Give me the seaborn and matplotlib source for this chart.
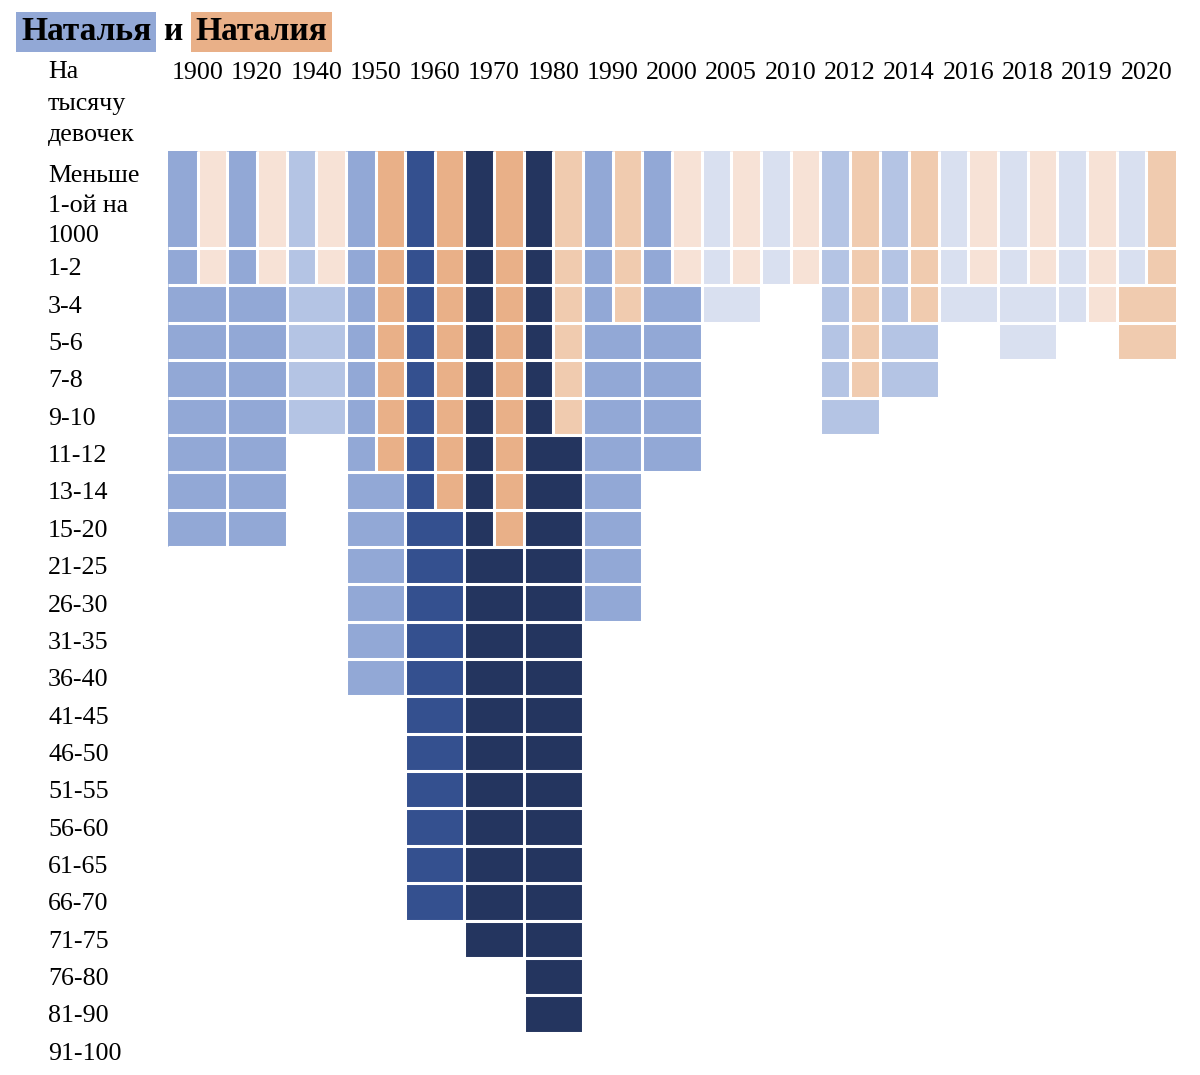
import numpy as np
import matplotlib
matplotlib.use('Agg')
import matplotlib.pyplot as plt
from matplotlib.colors import ListedColormap
import seaborn as sns

# ---------------- data ----------------
years = ['1900', '1920', '1940', '1950', '1960', '1970', '1980', '1990', '2000',
         '2005', '2010', '2012', '2014', '2016', '2018', '2019', '2020']
rate_bins = ['Меньше\n1-ой на\n1000', '1-2', '3-4', '5-6', '7-8', '9-10', '11-12',
             '13-14', '15-20', '21-25', '26-30', '31-35', '36-40', '41-45', '46-50',
             '51-55', '56-60', '61-65', '66-70', '71-75', '76-80', '81-90', '91-100']
# highest rate bin reached by each name, per year
natalya_bin = ['15-20', '15-20', '9-10', '36-40', '66-70', '71-75', '81-90', '26-30', '11-12',
               '3-4', '1-2', '9-10', '7-8', '3-4', '5-6', '3-4', '1-2']
natalia_bin = ['1-2', '1-2', '1-2', '11-12', '13-14', '15-20', '9-10', '3-4', '1-2',
               '1-2', '1-2', '7-8', '3-4', '1-2', '1-2', '3-4', '5-6']
# shade level of each column (0 = lightest)
natalya_shade = [2, 2, 1, 2, 3, 4, 4, 2, 2, 0, 0, 1, 1, 0, 0, 0, 0]
natalia_shade = [0, 0, 0, 2, 2, 2, 1, 1, 0, 0, 0, 1, 1, 0, 0, 0, 1]
blue_colors = ['#d9e0f0', '#b4c4e4', '#92a8d6', '#34508f', '#24355f']
orange_colors = ['#f7e2d6', '#f0cbaf', '#e9b088']
title_parts = ['Наталья', 'и', 'Наталия']
corner_label = 'На\nтысячу\nдевочек'

# ---------------- build grid ----------------
n_rows = len(rate_bins)
n_years = len(years)
units = np.array([13] + [5] * (n_rows - 1))      # first row is taller
edges = np.concatenate([[0], np.cumsum(units)])

grid = np.full((n_rows, 2 * n_years), np.nan)
split_rows = []
for j in range(n_years):
    na = rate_bins.index(natalya_bin[j]) + 1
    ni = rate_bins.index(natalia_bin[j]) + 1
    bcode = natalya_shade[j]
    ocode = len(blue_colors) + natalia_shade[j]
    for r in range(n_rows):
        if r < na and r < ni:
            grid[r, 2 * j] = bcode
            grid[r, 2 * j + 1] = ocode
        elif r < na:
            grid[r, 2 * j:2 * j + 2] = bcode
        elif r < ni:
            grid[r, 2 * j:2 * j + 2] = ocode
    split_rows.append(min(na, ni))
fine = np.repeat(grid, units, axis=0)

# ---------------- plot ----------------
sns.set_style('white')
plt.rcParams['font.family'] = ['Liberation Serif', 'DejaVu Serif']
plt.rcParams['text.color'] = 'black'
plt.rcParams['xtick.color'] = 'black'
plt.rcParams['ytick.color'] = 'black'

FS = 18.7
W, H = 1200, 1075
fig = plt.figure(figsize=(W / 100, H / 100), dpi=100)
ax = fig.add_axes([168 / W, 1 - 1070 / H, (1176 - 168) / W, (1070 - 151) / H])

cmap = ListedColormap(blue_colors + orange_colors)
sns.heatmap(fine, cmap=cmap, vmin=-0.5, vmax=len(cmap.colors) - 0.5, cbar=False,
            ax=ax, xticklabels=False, yticklabels=False)

gap = 2.2
ax.hlines(edges[1:-1], 0, 2 * n_years, colors='white', linewidth=gap)
ax.vlines(np.arange(2, 2 * n_years, 2), 0, edges[-1], colors='white', linewidth=gap)
for j in range(n_years):
    ax.vlines(2 * j + 1, 0, edges[split_rows[j]], colors='white', linewidth=gap)

ax.set_xticks(np.arange(n_years) * 2 + 1)
ax.set_xticklabels(years, fontsize=FS, rotation=0, color='black')
ax.xaxis.tick_top()
ax.tick_params(axis='x', length=0, pad=48.5, top=True, bottom=False, labeltop=True, labelbottom=False)

ax.set_yticks((edges[:-1] + edges[1:]) / 2)
ax.set_yticklabels(rate_bins, fontsize=FS, rotation=0, linespacing=1.46, color='black')
ax.tick_params(axis='y', length=0, pad=86.4)
for lab in ax.get_yticklabels():
    lab.set_horizontalalignment('left')

fig.text(48 / W, 1 - 61 / H, corner_label, fontsize=FS, ha='left', va='top',
         linespacing=1.56, color='black')

# title with highlighted names
renderer = fig.canvas.get_renderer()
base_y = 1 - 40.5 / H
t1 = fig.text(21 / W, base_y, title_parts[0], fontsize=24, fontweight='bold', va='baseline',
              color='black',
              bbox=dict(boxstyle='square,pad=0.14', facecolor=blue_colors[2], edgecolor='none'))
bb1 = t1.get_window_extent(renderer)
t2 = fig.text((bb1.x1 + 12) / W, base_y, title_parts[1], fontsize=24, fontweight='bold',
              va='baseline', color='black')
bb2 = t2.get_window_extent(renderer)
t3 = fig.text((bb2.x1 + 13) / W, base_y, title_parts[2], fontsize=24, fontweight='bold',
              va='baseline', color='black',
              bbox=dict(boxstyle='square,pad=0.14', facecolor=orange_colors[2], edgecolor='none'))

fig.savefig('out.png', dpi=100, facecolor='white')
